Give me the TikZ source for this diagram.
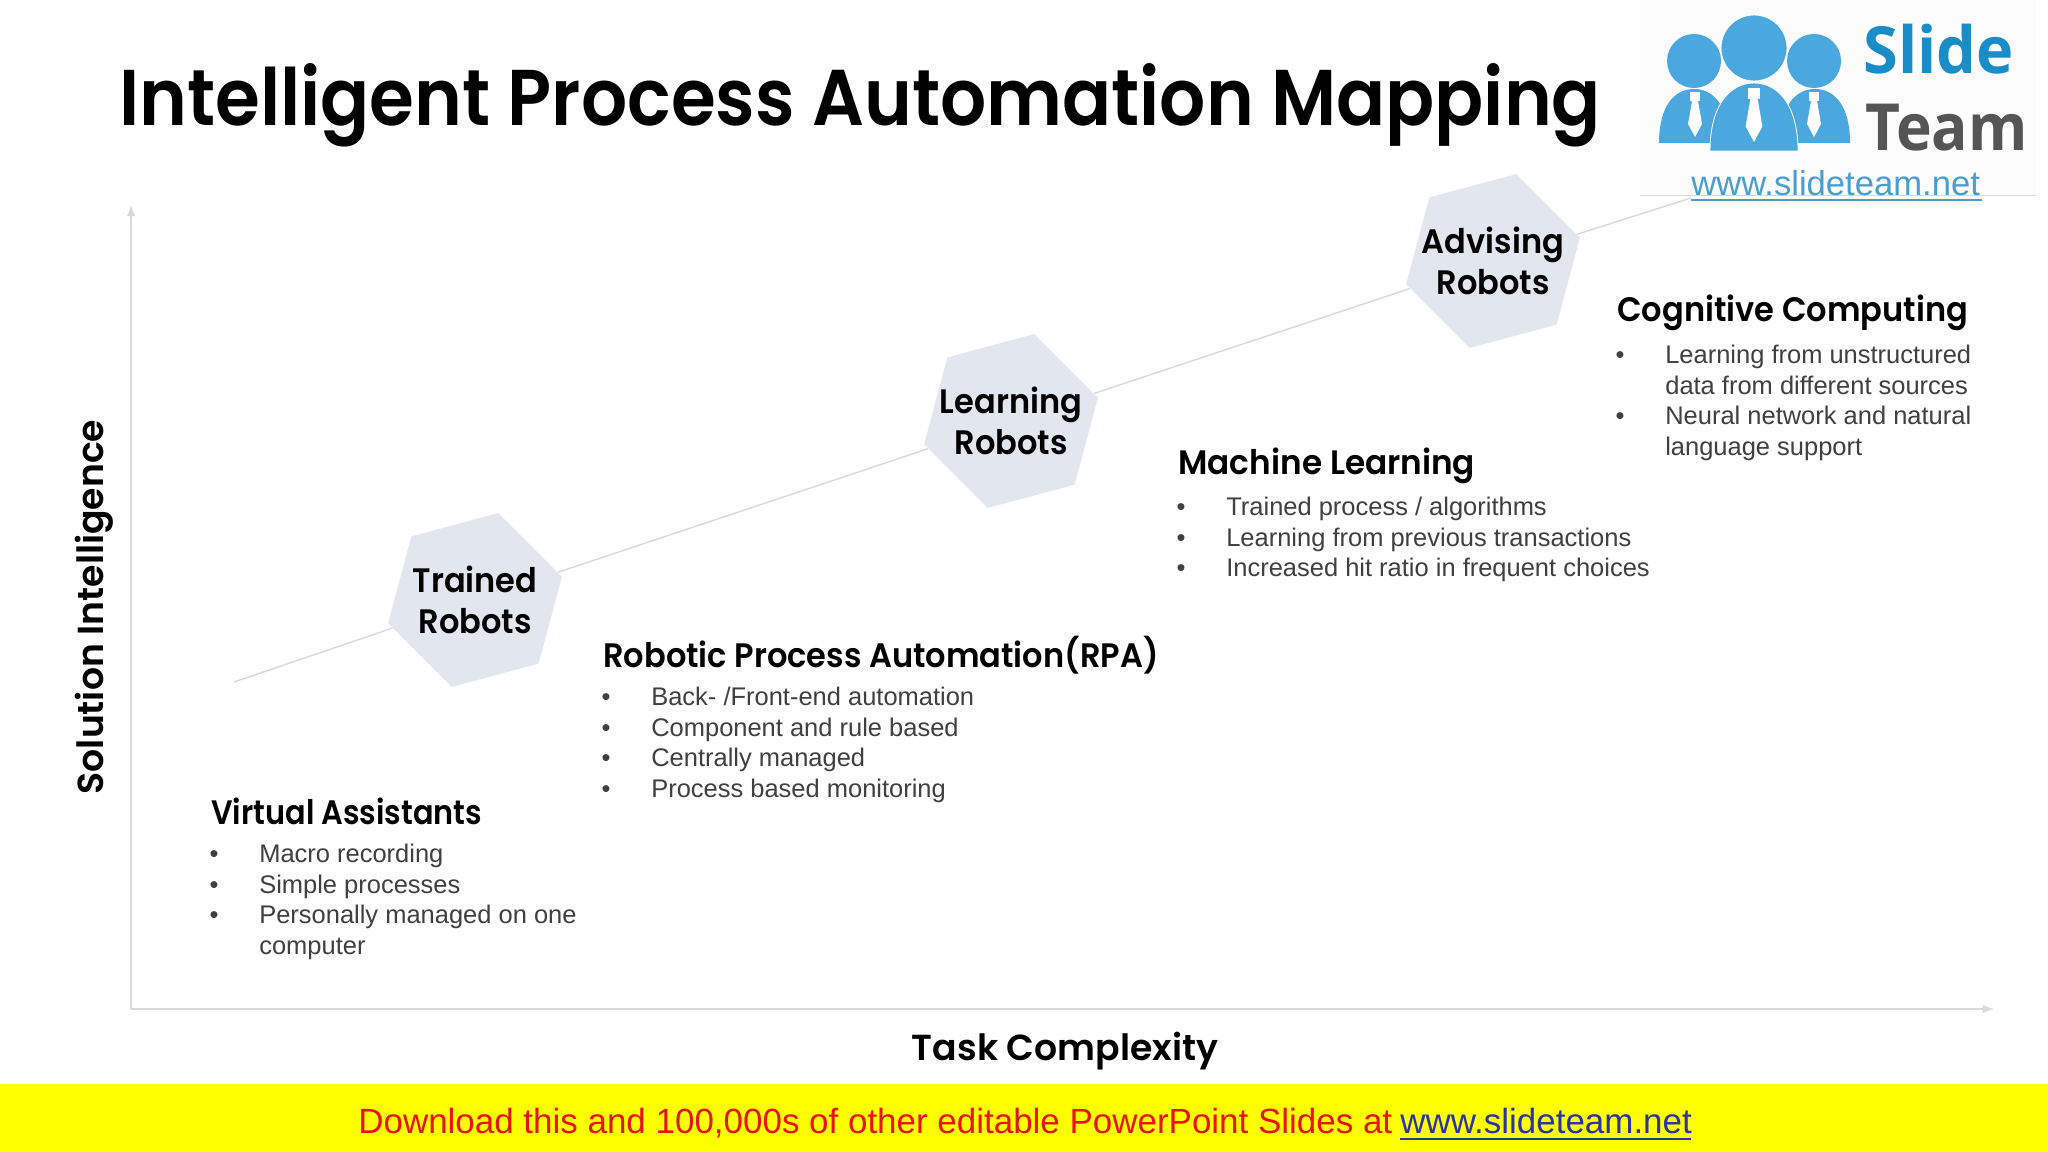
\documentclass[tikz,border=0pt]{standalone}
\usepackage{fontspec}
\setmainfont{Liberation Sans}
\newfontfamily\headfont{Poppins}[BoldFont={Poppins SemiBold},FakeStretch=0.945]
\newfontfamily\titlefont{Poppins}[BoldFont={Poppins SemiBold},FakeStretch=0.917]
\newfontfamily\axisfont{Poppins}[BoldFont={Poppins SemiBold}]
\newfontfamily\logofont{Open Sans}
\usetikzlibrary{shapes,arrows}
\definecolor{hexfill}{HTML}{E2E6EF}
\definecolor{axisgray}{HTML}{D9D9D9}
\definecolor{bodygray}{HTML}{404040}
\definecolor{logoblue}{HTML}{4AA8DE}
\definecolor{logotext}{HTML}{1A8CC8}
\definecolor{logogray}{HTML}{555555}
\definecolor{urlblue}{HTML}{4A9FD0}
\definecolor{bannerred}{HTML}{E8150F}
\definecolor{bannerblue}{HTML}{2A34A8}
\definecolor{banneryellow}{HTML}{FFFF00}
\newcommand{\itemline}[1]{\makebox[27.3pt][l]{\hspace{-1pt}\textbullet}#1\strut\\}
\newcommand{\itemcont}[1]{\hspace*{27.3pt}#1\strut\\}
\tikzset{%
hexnode/.style={regular polygon,regular polygon sides=6,shape border rotate=15,minimum size=3.6cm,
  fill=hexfill,inner sep=0pt,label={[hexlabel]center:#1}},
hexlabel/.style={inner sep=0pt,align=center,font=\headfont\bfseries\fontsize{19.3}{23.3}\selectfont},
headnode/.style={anchor=base west,inner sep=0pt,font=\headfont\bfseries\fontsize{19.3}{23.3}\selectfont},
axisnode/.style={anchor=base,inner sep=0pt,font=\axisfont\bfseries\fontsize{20.6}{24}\selectfont},
listnode/.style={anchor=north west,inner sep=0pt,align=left,text=bodygray,font=\fontsize{14.5}{17.47}\selectfont},
axisline/.style={axisgray,line width=1.2pt},
trendline/.style={axisgray,line width=0.8pt},
}
\begin{document}
\begin{tikzpicture}[x=0.02cm,y=-0.02cm]
    \useasboundingbox (0,0) rectangle (2048,1152);
    \fill[white] (0,0) rectangle (2048,1152);
    \node[anchor=base west,inner sep=0pt,font=\titlefont\bfseries\fontsize{45}{50}\selectfont] (title) at (119,126) {Intelligent Process Automation Mapping};
    % axes
    \coordinate (origin) at (131,1009);
    \coordinate (ytop) at (131,205);
    \coordinate (xend) at (1994,1009);
    \draw[->,>=latex,axisline] (origin)--(ytop);
    \draw[->,>=latex,axisline] (origin)--(xend);
    \node[axisnode,rotate=90] (ylabel) at (103,607) {Solution Intelligence};
    \node[axisnode] (xlabel) at (1065,1060) {Task Complexity};
    % logo
    \fill[white!99!black] (1640,0) rectangle (2036,195);
    \draw[axisgray,line width=0.4pt] (1640,195)--(2036,195);
    \fill[logoblue] (1659,143) .. controls (1659,105) and (1675,89) .. (1694,89) .. controls (1713,89) and (1729,105) .. (1729,143) -- cycle;
    \fill[logoblue] (1780,143) .. controls (1780,105) and (1796,89) .. (1815,89) .. controls (1834,89) and (1850,105) .. (1850,143) -- cycle;
    \fill[logoblue,draw=white!98!black,line width=0.5pt] (1710,151) .. controls (1710,105) and (1730,83) .. (1754,83) .. controls (1778,83) and (1798,105) .. (1798,151) -- cycle;
    \fill[logoblue] (1694,61) circle (27);
    \fill[logoblue] (1814,61) circle (27);
    \fill[logoblue,draw=white!98!black,line width=0.5pt] (1754,48) circle (33);
    \foreach \tx/\ty/\ts in {1695/92/1,1814/92/1,1754/88/1.2}{
      \fill[white] (\tx-5*\ts,\ty) rectangle (\tx+5*\ts,\ty+9*\ts);
      \fill[white] (\tx-3*\ts,\ty+9*\ts)--(\tx+3*\ts,\ty+9*\ts)--(\tx+7*\ts,\ty+32*\ts)--(\tx,\ty+45*\ts)--(\tx-7*\ts,\ty+32*\ts)--cycle;
    }
    \node[anchor=base west,inner sep=0pt,text=logotext,font=\logofont\bfseries\fontsize{37}{40}\selectfont] (slide) at (1863,74) {\addfontfeature{FakeStretch=0.97}Slide};
    \node[anchor=base west,inner sep=0pt,text=logogray,font=\logofont\bfseries\fontsize{37}{40}\selectfont] (team) at (1865,151) {\addfontfeature{FakeStretch=0.93}Team};
    \node[anchor=base west,inner sep=0pt,text=urlblue,font=\fontsize{19.7}{22}\selectfont] (url) at (1691,195) {www.slideteam.net};
    \draw[urlblue,line width=1.1pt] (url.base west)++(0,5)--++(291,0);
    % robots
    \node[hexnode={Trained\\Robots}] (trained) at (475,600) {};
    \node[hexnode={Learning\\Robots}] (learning) at (1011,421) {};
    \node[hexnode={Advising\\Robots}] (advising) at (1493,261) {};
    \coordinate (linestart) at (234,682);
    \coordinate (lineend) at (1691,198);
    \draw[trendline] (linestart)--(trained);
    \draw[trendline] (trained)--(learning);
    \draw[trendline] (learning)--(advising);
    \draw[trendline] (advising)--(lineend);
    % text blocks
    \node[headnode] (assistants) at (211,824) {\addfontfeature{FakeStretch=0.895}Virtual Assistants};
    \node[listnode] (assistantslist) at (211,840.5) {\itemline{Macro recording}\itemline{Simple processes}\itemline{Personally managed on one}\itemcont{computer}};
    \node[headnode] (rpa) at (603,667) {Robotic Process Automation(RPA)};
    \node[listnode] (rpalist) at (603,683.5) {\itemline{Back- /Front-end automation}\itemline{Component and rule based}\itemline{Centrally managed}\itemline{Process based monitoring}};
    \node[headnode] (machine) at (1178,474) {\addfontfeature{FakeStretch=0.965}Machine Learning};
    \node[listnode] (machinelist) at (1178,493.5) {\itemline{Trained process / algorithms}\itemline{Learning from previous transactions}\itemline{Increased hit ratio in frequent choices}};
    \node[headnode] (cognitive) at (1617,321) {Cognitive Computing};
    \node[listnode] (cognitivelist) at (1617,341.5) {\itemline{Learning from unstructured}\itemcont{data from different sources}\itemline{Neural network and natural}\itemcont{language support}};
    % banner
    \fill[banneryellow] (0,1084) rectangle (2048,1152);
    \node[anchor=base west,inner sep=0pt,text=bannerred,font=\fontsize{19.9}{24}\selectfont] (download) at (358,1133) {Download this and 100,000s of other editable PowerPoint Slides at};
    \node[anchor=base west,inner sep=0pt,text=bannerblue,font=\fontsize{19.9}{24}\selectfont] (bannerurl) at (1400,1133) {www.slideteam.net};
    \draw[bannerblue,line width=1.2pt] (bannerurl.base west)++(0,6)--++(291,0);
\end{tikzpicture}
\end{document}
